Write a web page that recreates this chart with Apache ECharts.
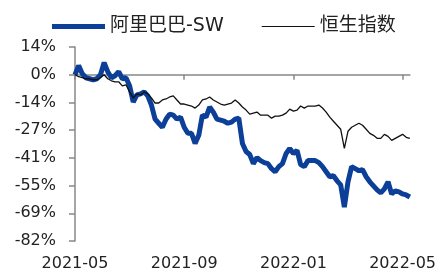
<!DOCTYPE html>
<html>
<head>
    <meta charset="utf-8">
    <title>阿里巴巴-SW vs 恒生指数</title>
    <script src="https://cdn.jsdelivr.net/npm/echarts@6/dist/echarts.min.js"></script>
	<style>
		html, body {margin: 0; padding: 0; background: #fff;}
		#main {width: 439px; height: 275px;}
	</style>
</head>
<body>
	<div id="main"></div>
    <script type="text/javascript">
		// 日期（约每4天取一个点）
		var dates = [
			'2021-05-24','2021-05-28','2021-06-01','2021-06-05','2021-06-09','2021-06-13','2021-06-17','2021-06-21','2021-06-25','2021-06-29',
			'2021-07-03','2021-07-07','2021-07-11','2021-07-15','2021-07-19','2021-07-23','2021-07-27','2021-07-31','2021-08-04','2021-08-08',
			'2021-08-12','2021-08-16','2021-08-20','2021-08-24','2021-08-28','2021-09-01','2021-09-05','2021-09-09','2021-09-13','2021-09-17',
			'2021-09-21','2021-09-25','2021-09-29','2021-10-03','2021-10-07','2021-10-11','2021-10-15','2021-10-19','2021-10-23','2021-10-27',
			'2021-10-31','2021-11-04','2021-11-08','2021-11-12','2021-11-16','2021-11-20','2021-11-24','2021-11-28','2021-12-02','2021-12-06',
			'2021-12-10','2021-12-14','2021-12-18','2021-12-22','2021-12-26','2021-12-30','2022-01-03','2022-01-07','2022-01-11','2022-01-15',
			'2022-01-19','2022-01-23','2022-01-27','2022-01-31','2022-02-04','2022-02-08','2022-02-12','2022-02-16','2022-02-20','2022-02-24',
			'2022-02-28','2022-03-04','2022-03-08','2022-03-12','2022-03-16','2022-03-20','2022-03-24','2022-03-28','2022-04-01','2022-04-05',
			'2022-04-09','2022-04-13','2022-04-17','2022-04-21','2022-04-25','2022-04-29','2022-05-03','2022-05-07','2022-05-11','2022-05-15',
			'2022-05-19','2022-05-23','2022-05-27'
		];

		// 阿里巴巴-SW 累计涨跌幅 (%)
		var alibaba = [
			0, 4.5, 0.5, -1.5, -2, -2.5, -2, 0, 6, 1.5,
			-1.5, -0.5, 1.5, -2, -1.5, -5.5, -13.5, -10, -9.5, -8.5,
			-10.5, -15, -22, -24, -26, -22, -19.5, -20, -22, -21,
			-26, -29, -29, -34, -30, -20, -21, -16, -18.5, -22,
			-22.5, -23, -24, -23.5, -22, -21.5, -34, -38, -39.5, -44,
			-41, -42.5, -43.5, -44, -46.5, -48, -45.5, -44, -39, -36.5,
			-39, -37.5, -44.5, -45.5, -42.5, -42.5, -42.5, -43.5, -45.5, -48,
			-50.5, -50, -52.5, -54.5, -65.5, -53, -45.5, -46.5, -47.5, -47,
			-50.5, -53, -55, -57, -58.5, -56.5, -53, -59, -57.5, -58,
			-59, -59.5, -60.5
		];

		// 恒生指数 累计涨跌幅 (%)
		var hsi = [
			0, -1, -1.5, -2, -2, -2.5, -2.5, -1.5, 0, -2,
			-3, -3.5, -3.5, -5.5, -5, -8.5, -11.5, -9.5, -10, -8.5,
			-9.5, -11.5, -14, -14, -12.5, -12, -11, -10.5, -12.5, -14.5,
			-14.5, -15, -15.5, -16.5, -15, -12.5, -12, -11, -12.5, -13.5,
			-14.5, -15, -14.5, -14, -12.5, -14, -16, -17.5, -19.5, -19,
			-18.5, -20, -20, -20, -21.5, -20.5, -20.5, -20, -19, -17,
			-18, -17.5, -15.5, -16.5, -15.5, -15.5, -15.5, -15, -16.5, -18.5,
			-21, -23, -25, -27, -36.5, -28, -26, -25, -24, -25,
			-27, -29, -30, -31.5, -31.5, -29.5, -30.5, -32.5, -31.5, -30.5,
			-29.5, -31, -31.5
		];

		var seriesNames = ['阿里巴巴-SW', '恒生指数'];
		var blue = '#0b3f98';
		var yStep = 96 / 7;

		var chart = echarts.init(document.getElementById('main'));
		var option = {
			animation: false,
			textStyle: {fontFamily: 'DejaVu Sans, Noto Sans CJK SC, sans-serif'},
			legend: {
				left: 47,
				top: 12,
				itemWidth: 53,
				itemHeight: 14,
				itemGap: 38,
				textStyle: {fontSize: 19, color: '#222', fontFamily: 'DejaVu Sans, Noto Sans CJK SC, sans-serif'},
				data: [
					{name: seriesNames[0], icon: 'path://M0,0L53,0L53,5L0,5Z', itemStyle: {color: blue}},
					{name: seriesNames[1], icon: 'path://M0,0L53,0L53,1.2L0,1.2Z', itemStyle: {color: '#111'}}
				]
			},
			grid: {left: 75, right: 28, top: 47, bottom: 34, containLabel: false},
			xAxis: {
				type: 'category',
				boundaryGap: false,
				data: dates,
				axisLine: {lineStyle: {color: '#888', width: 1.5}},
				axisTick: {interval: 29, length: 5, lineStyle: {color: '#888', width: 1.5}},
				axisLabel: {
					interval: 29,
					fontSize: 16,
					color: '#222',
					margin: 15,
					formatter: function (v) { return v.slice(0, 7); }
				},
				splitLine: {show: false}
			},
			yAxis: {
				type: 'value',
				min: -6 * yStep,
				max: yStep,
				interval: yStep,
				axisLine: {show: true, lineStyle: {color: '#888', width: 1.5}},
				axisTick: {show: true, length: 6, lineStyle: {color: '#888', width: 1.5}},
				axisLabel: {
					fontSize: 16,
					color: '#222',
					margin: 19,
					formatter: function (v) { return Math.round(v) + '%'; }
				},
				splitLine: {show: false}
			},
			series: [{
				name: seriesNames[0],
				type: 'line',
				data: alibaba,
				symbol: 'none',
				lineStyle: {color: blue, width: 5},
				itemStyle: {color: blue}
			}, {
				name: seriesNames[1],
				type: 'line',
				data: hsi,
				symbol: 'none',
				lineStyle: {color: '#111', width: 1.3},
				itemStyle: {color: '#111'}
			}]
		};
		chart.setOption(option);
    </script>
</body>
</html>
